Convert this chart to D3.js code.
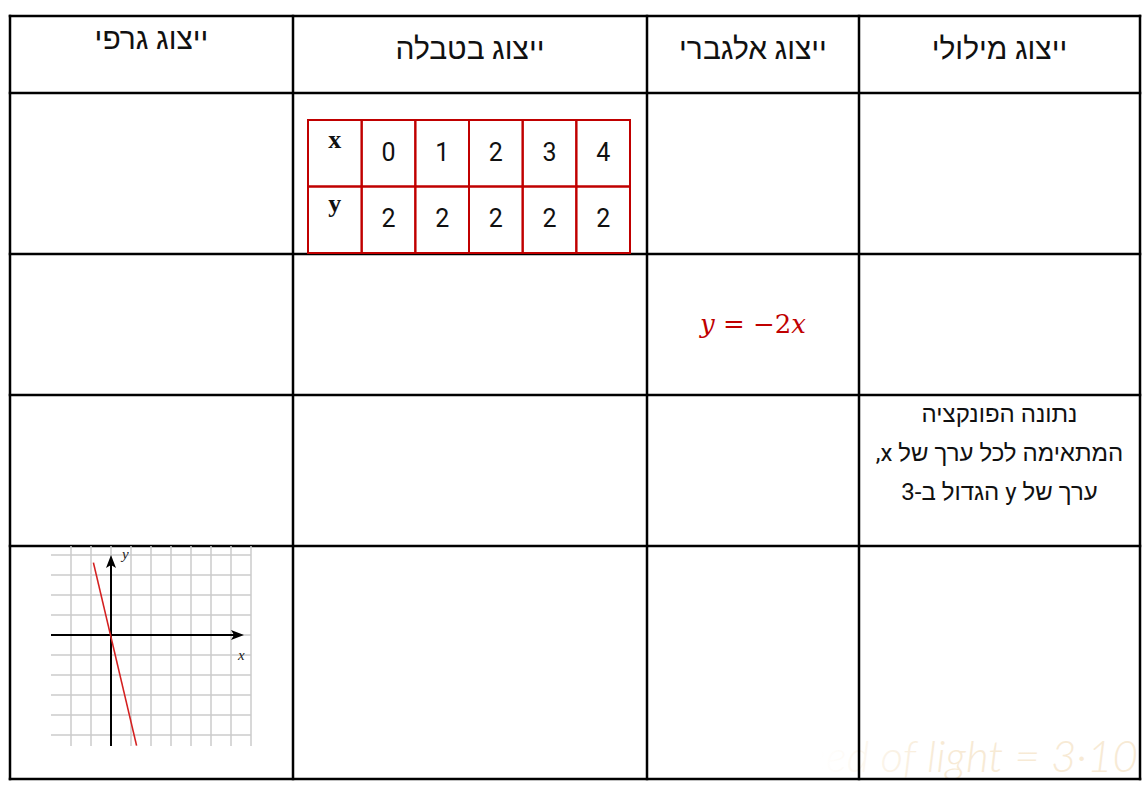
<!DOCTYPE html>
<html><head><meta charset="utf-8">
<script src="https://cdn.jsdelivr.net/npm/d3@7"></script>
<style>html,body{margin:0;padding:0;background:#fff;} svg{display:block;}</style>
</head><body><svg id="c" width="1144" height="787"></svg>
<script>
// ---- data ----
const headers = ["ייצוג גרפי", "ייצוג בטבלה", "ייצוג אלגברי", "ייצוג מילולי"];
const tableHeads = ["x", "y"];
const xValues = [0, 1, 2, 3, 4];
const yValues = [2, 2, 2, 2, 2];
const equationParts = [{t: "y", it: true}, {t: " = −2", it: false}, {t: "x", it: true}];
const verbalLines = ["נתונה הפונקציה", "המתאימה לכל ערך של x,", "ערך של y הגדול ב-3"];
const gridXTicks = [-2, -1, 0, 1, 2, 3, 4, 5, 6, 7];
const gridYTicks = [-5, -4, -3, -2, -1, 0, 1, 2, 3, 4];
const linePoints = [[-0.88, 3.62], [1.28, -5.53]];
const watermark = "speed of light = 3·10";

// ---- layout ----
const colEdges = [10, 293, 647, 859, 1140];
const rowEdges = [16, 93, 254, 395, 546, 779];
const HEB = "Roboto, 'Liberation Sans', Arial, sans-serif";
const svg = d3.select("#c");

// watermark (behind)
const defs = svg.append("defs");
const grad = defs.append("linearGradient").attr("id", "wm").attr("gradientUnits", "userSpaceOnUse")
  .attr("x1", 820).attr("x2", 940).attr("y1", 0).attr("y2", 0);
grad.append("stop").attr("offset", 0).attr("stop-color", "#f7ead5").attr("stop-opacity", 0);
grad.append("stop").attr("offset", 1).attr("stop-color", "#f7ead5").attr("stop-opacity", 1);
svg.append("text").attr("x", 1138).attr("y", 772).attr("text-anchor", "end")
  .attr("font-family", "Lato, 'DejaVu Sans', sans-serif").attr("font-style", "italic").attr("font-weight", 300)
  .attr("font-size", 44).attr("fill", "url(#wm)").text(watermark);

// outer table
const g = svg.append("g");
g.selectAll("line.h").data(rowEdges).join("line").attr("class", "h")
  .attr("x1", colEdges[0]).attr("x2", colEdges[colEdges.length - 1]).attr("y1", d => d).attr("y2", d => d)
  .attr("stroke", "#000").attr("stroke-width", 2.5).attr("stroke-linecap", "square");
g.selectAll("line.v").data(colEdges).join("line").attr("class", "v")
  .attr("y1", rowEdges[0]).attr("y2", rowEdges[rowEdges.length - 1]).attr("x1", d => d).attr("x2", d => d)
  .attr("stroke", "#000").attr("stroke-width", 2.5).attr("stroke-linecap", "square");

// headers
const headerBaseline = [49, 59, 59, 59];
g.selectAll("text.hdr").data(headers).join("text").attr("class", "hdr")
  .attr("x", (d, i) => (colEdges[i] + colEdges[i + 1]) / 2).attr("y", (d, i) => headerBaseline[i])
  .attr("text-anchor", "middle").attr("direction", "rtl").style("direction", "rtl")
  .attr("font-family", HEB).attr("font-size", 30).attr("fill", "#111").text(d => d);

// inner value table
const tcols = d3.scaleBand().domain(d3.range(xValues.length + 1)).range([308, 630]);
const trows = d3.scaleBand().domain(tableHeads).range([120, 253]);
const cells = [];
tableHeads.forEach((r, ri) => {
  cells.push({r, c: 0, label: r, head: true});
  (ri === 0 ? xValues : yValues).forEach((v, ci) => cells.push({r, c: ci + 1, label: String(v), head: false}));
});
const tg = svg.append("g");
tg.selectAll("rect").data(cells).join("rect")
  .attr("x", d => tcols(d.c)).attr("y", d => trows(d.r))
  .attr("width", tcols.bandwidth()).attr("height", trows.bandwidth())
  .attr("fill", "none").attr("stroke", "#c00000").attr("stroke-width", 2);
tg.selectAll("text").data(cells).join("text")
  .attr("x", d => tcols(d.c) + tcols.bandwidth() / 2)
  .attr("y", d => d.head ? trows(d.r) + (d.r === "x" ? 28 : 25) : trows(d.r) + trows.bandwidth() / 2 + 7.5)
  .attr("text-anchor", "middle")
  .attr("font-family", d => d.head ? "'Liberation Serif', 'Times New Roman', serif" : "Roboto, sans-serif")
  .attr("font-weight", d => d.head ? "bold" : "normal")
  .attr("font-size", d => d.head ? 26 : 25)
  .attr("fill", "#111").text(d => d.label);

// equation
const eq = svg.append("text").attr("x", (colEdges[2] + colEdges[3]) / 2).attr("y", 333)
  .attr("text-anchor", "middle").attr("font-family", "'DejaVu Serif', serif").attr("font-size", 26)
  .attr("fill", "#c00000").attr("xml:space", "preserve").style("white-space", "pre");
eq.selectAll("tspan").data(equationParts).join("tspan")
  .attr("font-style", d => d.it ? "italic" : "normal").text(d => d.t);

// verbal description
const vCenter = (colEdges[3] + colEdges[4]) / 2;
svg.append("g").selectAll("text").data(verbalLines).join("text")
  .attr("x", vCenter).attr("y", (d, i) => 422 + i * 39)
  .attr("text-anchor", "middle").attr("direction", "rtl").style("direction", "rtl")
  .attr("font-family", HEB).attr("font-size", 24).attr("fill", "#111").text(d => d);

// graph
const gx = d3.scaleLinear().domain([-3, 7]).range([51, 251]);
const gy = d3.scaleLinear().domain([-5.55, 4.45]).range([746, 546]);
const gg = svg.append("g");
gg.selectAll("line.gv").data(gridXTicks).join("line").attr("class", "gv")
  .attr("x1", d => gx(d)).attr("x2", d => gx(d)).attr("y1", gy(-5.55)).attr("y2", gy(4.45))
  .attr("stroke", "#cbcbcb").attr("stroke-width", 1.5);
gg.selectAll("line.gh").data(gridYTicks).join("line").attr("class", "gh")
  .attr("y1", d => gy(d)).attr("y2", d => gy(d)).attr("x1", gx(-3)).attr("x2", gx(7))
  .attr("stroke", "#cbcbcb").attr("stroke-width", 1.5);
// axes
const xTip = [gx(6.65), gy(0)], yTip = [gx(0), gy(4)];
gg.append("line").attr("x1", gx(-3)).attr("x2", xTip[0] - 8).attr("y1", gy(0)).attr("y2", gy(0))
  .attr("stroke", "#000").attr("stroke-width", 2);
gg.append("line").attr("x1", gx(0)).attr("x2", gx(0)).attr("y1", gy(-5.55)).attr("y2", yTip[1] + 8)
  .attr("stroke", "#000").attr("stroke-width", 2);
gg.append("path").attr("d", `M${xTip[0]},${xTip[1]} L${xTip[0]-13},${xTip[1]-5} L${xTip[0]-10},${xTip[1]} L${xTip[0]-13},${xTip[1]+5}Z`).attr("fill", "#000");
gg.append("path").attr("d", `M${yTip[0]},${yTip[1]} L${yTip[0]-5},${yTip[1]+13} L${yTip[0]},${yTip[1]+10} L${yTip[0]+5},${yTip[1]+13}Z`).attr("fill", "#000");
gg.append("text").attr("x", gx(0.55)).attr("y", gy(3.78)).attr("font-family", "'Liberation Serif', serif")
  .attr("font-style", "italic").attr("font-size", 15).attr("fill", "#222").text("y");
gg.append("text").attr("x", gx(6.35)).attr("y", gy(-1.23)).attr("font-family", "'Liberation Serif', serif")
  .attr("font-style", "italic").attr("font-size", 15).attr("fill", "#222").text("x");
// red line
gg.append("path").datum(linePoints)
  .attr("d", d3.line().x(d => gx(d[0])).y(d => gy(d[1])))
  .attr("fill", "none").attr("stroke", "#d42020").attr("stroke-width", 1.6);
</script>
</body></html>
